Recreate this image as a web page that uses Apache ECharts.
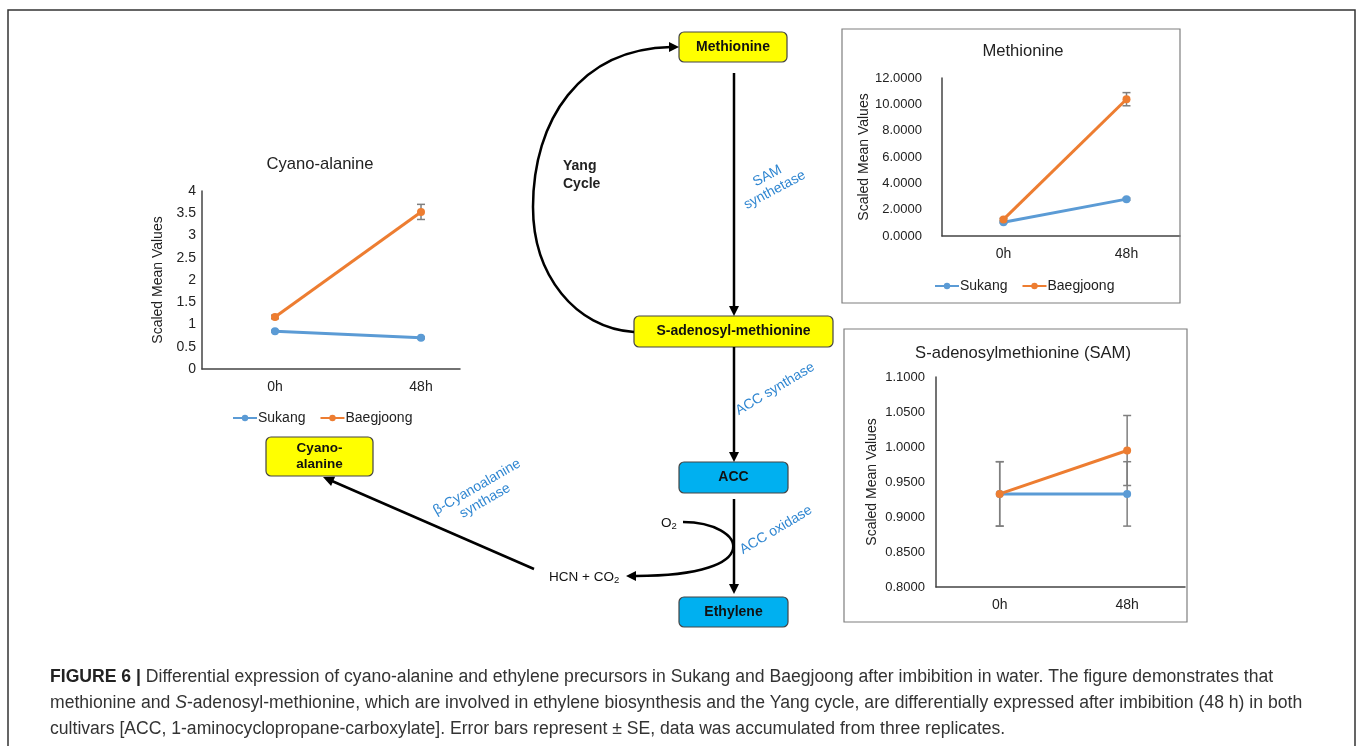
<!DOCTYPE html>
<html>
<head>
<meta charset="utf-8">
<script src="https://cdn.jsdelivr.net/npm/echarts@6/dist/echarts.min.js"></script>
<style>
html,body{margin:0;padding:0;background:#fff;}
#main{width:1360px;height:746px;}
</style>
</head>
<body>
<div id="main"></div>
<script>
// ---- data ----
const categories = ['0h', '48h'];
const seriesNames = ['Sukang', 'Baegjoong'];
const cyanoSukang = [0.85, 0.70];
const cyanoBaeg = [1.17, 3.53];
const cyanoSukangErr = [0.02, 0.02];
const cyanoBaegErr = [0.04, 0.17];
const metSukang = [1.04, 2.80];
const metBaeg = [1.26, 10.39];
const metSukangErr = [0.05, 0.08];
const metBaegErr = [0.08, 0.50];
const samSukang = [0.933, 0.933];
const samBaeg = [0.933, 0.995];
const samSukangErr = [0.046, 0.046];
const samBaegErr = [0.046, 0.050];

const C_SUK = '#5B9BD5', C_BAE = '#ED7D31', C_ERR = '#7F7F7F';
const FONT = '"Liberation Sans", Arial, sans-serif';
const BLUE = '#2F86D1';

const pts = arr => arr.map((v, i) => [i, v]);
const errPts = (vals, errs) => vals.map((v, i) => [i, v - errs[i], v + errs[i]]);

function errRender(params, api) {
  const x = api.value(0);
  const a = api.coord([x, api.value(2)]);
  const b = api.coord([x, api.value(1)]);
  const w = 4;
  const st = { stroke: C_ERR, lineWidth: 1.5 };
  return { type: 'group', children: [
    { type: 'line', shape: { x1: a[0], y1: a[1], x2: b[0], y2: b[1] }, style: st },
    { type: 'line', shape: { x1: a[0] - w, y1: a[1], x2: a[0] + w, y2: a[1] }, style: st },
    { type: 'line', shape: { x1: b[0] - w, y1: b[1], x2: b[0] + w, y2: b[1] }, style: st }
  ]};
}

function xAxisFor(idx, max) {
  return {
    type: 'value', gridIndex: idx, min: -0.5, max: max, interval: 0.5,
    axisLine: { show: true, onZero: false, lineStyle: { color: '#444', width: 1.5 } },
    axisTick: { show: false }, splitLine: { show: false },
    axisLabel: { color: '#222', fontFamily: FONT, fontSize: 14, margin: 11,
      showMinLabel: true, showMaxLabel: true,
      formatter: v => (Math.abs(v - Math.round(v)) < 1e-6 && v >= 0 && v < categories.length) ? categories[Math.round(v)] : '' }
  };
}
function yAxisFor(idx, min, max, interval, fmt, fs, margin, gap) {
  return {
    type: 'value', gridIndex: idx, min: min, max: max, interval: interval,
    name: 'Scaled Mean Values', nameLocation: 'middle', nameRotate: 90, nameGap: gap,
    nameTextStyle: { color: '#222', fontFamily: FONT, fontSize: 14 },
    axisLine: { show: true, onZero: false, lineStyle: { color: '#444', width: 1.5 } },
    axisTick: { show: false }, splitLine: { show: false },
    axisLabel: { color: '#222', fontFamily: FONT, fontSize: fs, margin: margin, formatter: fmt }
  };
}
function lineSeries(name, color, data, idx) {
  return { type: 'line', name: name, xAxisIndex: idx, yAxisIndex: idx, data: pts(data),
    symbol: 'circle', symbolSize: 8, lineStyle: { color: color, width: 3 },
    itemStyle: { color: color }, z: 3 };
}
function errSeries(vals, errs, idx) {
  return { type: 'custom', xAxisIndex: idx, yAxisIndex: idx, data: errPts(vals, errs),
    renderItem: errRender, z: 2, silent: true };
}

// diagram helpers
function arrowHead(x1, y1, x2, y2, len, half) {
  const dx = x2 - x1, dy = y2 - y1, L = Math.hypot(dx, dy);
  const ux = dx / L, uy = dy / L;
  const bx = x2 - ux * len, by = y2 - uy * len;
  return { type: 'polygon', shape: { points: [[x2, y2], [bx - uy * half, by + ux * half], [bx + uy * half, by - ux * half]] },
    style: { fill: '#000' }, z: 10 };
}
function seg(x1, y1, x2, y2) {
  return { type: 'line', shape: { x1, y1, x2, y2 }, style: { stroke: '#000', lineWidth: 2.5 }, z: 10 };
}
function box(x, y, w, h, fill, lines, fs) {
  const els = [{ type: 'rect', shape: { x, y, width: w, height: h, r: 5 },
    style: { fill: fill, stroke: '#444', lineWidth: 1.2 }, z: 10 }];
  els.push({ type: 'text', x: x + w / 2, y: y + h / 2, z: 11,
    style: { text: lines, fill: '#111', font: 'bold ' + fs + 'px ' + FONT, align: 'center', verticalAlign: 'middle', lineHeight: fs + 3 } });
  return els;
}
function rotText(x, y, text, deg, fs, color) {
  return { type: 'text', x, y, rotation: deg * Math.PI / 180, z: 11,
    style: { text, fill: color, font: fs + 'px ' + FONT, align: 'center', verticalAlign: 'middle', lineHeight: fs + 2 } };
}

const graphics = [];
// outer frame and chart frames
graphics.push({ type: 'rect', shape: { x: 8, y: 10, width: 1347, height: 780 }, style: { fill: 'none', stroke: '#333', lineWidth: 1.5 }, z: 1 });
graphics.push({ type: 'rect', shape: { x: 842, y: 29, width: 338, height: 274 }, style: { fill: 'none', stroke: '#7F7F7F', lineWidth: 1.2 }, z: 1 });
graphics.push({ type: 'rect', shape: { x: 844, y: 329, width: 343, height: 293 }, style: { fill: 'none', stroke: '#7F7F7F', lineWidth: 1.2 }, z: 1 });
// chart titles
graphics.push({ type: 'text', x: 320, y: 164, style: { text: 'Cyano-alanine', fill: '#222', font: '16.6px ' + FONT, align: 'center', verticalAlign: 'middle' } });
graphics.push({ type: 'text', x: 1023, y: 51, style: { text: 'Methionine', fill: '#222', font: '16.6px ' + FONT, align: 'center', verticalAlign: 'middle' } });
graphics.push({ type: 'text', x: 1023, y: 353, style: { text: 'S-adenosylmethionine (SAM)', fill: '#222', font: '16.6px ' + FONT, align: 'center', verticalAlign: 'middle' } });

// boxes
graphics.push(...box(679, 32, 108, 30, '#FFFF00', 'Methionine', 14));
graphics.push(...box(634, 316, 199, 31, '#FFFF00', 'S-adenosyl-methionine', 14));
graphics.push(...box(266, 437, 107, 39, '#FFFF00', 'Cyano-\nalanine', 13.5));
graphics.push(...box(679, 462, 109, 31, '#00B0F0', 'ACC', 14));
graphics.push(...box(679, 597, 109, 30, '#00B0F0', 'Ethylene', 14));

// vertical arrows
graphics.push(seg(734, 73, 734, 306), arrowHead(734, 73, 734, 316, 10, 5));
graphics.push(seg(734, 347, 734, 452), arrowHead(734, 347, 734, 462, 10, 5));
graphics.push(seg(734, 499, 734, 584), arrowHead(734, 499, 734, 594, 10, 5));
// Yang cycle curve
graphics.push({ type: 'bezierCurve', shape: { x1: 634, y1: 332, cpx1: 575, cpy1: 328, cpx2: 533, cpy2: 275, x2: 533, y2: 207 }, style: { stroke: '#000', lineWidth: 2.5, fill: 'none' }, z: 10 });
graphics.push({ type: 'bezierCurve', shape: { x1: 533, y1: 207, cpx1: 533, cpy1: 120, cpx2: 580, cpy2: 49, x2: 671, y2: 47 }, style: { stroke: '#000', lineWidth: 2.5, fill: 'none' }, z: 10 });
graphics.push(arrowHead(665, 47, 679, 47, 10, 5));
// O2 curve
graphics.push({ type: 'bezierCurve', shape: { x1: 683, y1: 522, cpx1: 745, cpy1: 522, cpx2: 770, cpy2: 576, x2: 636, y2: 576 }, style: { stroke: '#000', lineWidth: 2.5, fill: 'none' }, z: 10 });
graphics.push(arrowHead(646, 576, 626, 576, 10, 5));
// HCN -> cyano-alanine
graphics.push(seg(534, 569, 332, 481), arrowHead(534, 569, 323, 477, 11, 5));

// labels
graphics.push({ type: 'text', x: 563, y: 175, z: 11, style: { text: 'Yang\nCycle', fill: '#222', font: 'bold 14px ' + FONT, align: 'left', verticalAlign: 'middle', lineHeight: 18 } });
graphics.push(rotText(771, 183, 'SAM\nsynthetase', 28, 14, BLUE));
graphics.push(rotText(775, 389, 'ACC synthase', 31, 14, BLUE));
graphics.push(rotText(776, 530, 'ACC oxidase', 31, 14, BLUE));
graphics.push(rotText(481, 494, '\u03B2-Cyanoalanine\nsynthase', 30, 14, BLUE));
const subRich = { n: { font: '13.5px ' + FONT, fill: '#111' }, s: { font: '9.5px ' + FONT, fill: '#111', padding: [7, 0, 0, 0] } };
graphics.push({ type: 'text', x: 549, y: 577, z: 11, style: { text: '{n|HCN + CO}{s|2}', rich: subRich, align: 'left', verticalAlign: 'middle' } });
graphics.push({ type: 'text', x: 661, y: 523, z: 11, style: { text: '{n|O}{s|2}', rich: subRich, align: 'left', verticalAlign: 'middle' } });

// caption
const CF = 17.6;
const capRich = {
  b: { font: 'bold ' + CF + 'px ' + FONT, fill: '#222' },
  n: { font: CF + 'px ' + FONT, fill: '#333' },
  i: { font: 'italic ' + CF + 'px ' + FONT, fill: '#333' }
};
graphics.push({ type: 'text', x: 50, y: 677, style: { text: '{b|FIGURE 6 |}{n| Differential expression of cyano-alanine and ethylene precursors in Sukang and Baegjoong after imbibition in water. The figure demonstrates that}', rich: capRich, verticalAlign: 'middle' } });
graphics.push({ type: 'text', x: 50, y: 703, style: { text: '{n|methionine and }{i|S}{n|-adenosyl-methionine, which are involved in ethylene biosynthesis and the Yang cycle, are differentially expressed after imbibition (48 h) in both}', rich: capRich, verticalAlign: 'middle' } });
graphics.push({ type: 'text', x: 50, y: 729, style: { text: '{n|cultivars [ACC, 1-aminocyclopropane-carboxylate]. Error bars represent \u00B1 SE, data was accumulated from three replicates.}', rich: capRich, verticalAlign: 'middle' } });

const legendText = { fontFamily: FONT, fontSize: 14, color: '#222', padding: [0, 0, 0, -4] };
const chart = echarts.init(document.getElementById('main'), null, { renderer: 'canvas' });
chart.setOption({
  backgroundColor: '#fff',
  animation: false,
  textStyle: { fontFamily: FONT },
  grid: [
    { left: 202, top: 191, width: 258, height: 178, outerBoundsMode: 'none', containLabel: false },
    { left: 942, top: 78, width: 238, height: 158, outerBoundsMode: 'none', containLabel: false },
    { left: 936, top: 377, width: 249, height: 210, outerBoundsMode: 'none', containLabel: false }
  ],
  xAxis: [ xAxisFor(0, 1.267), xAxisFor(1, 1.435), xAxisFor(2, 1.454) ],
  yAxis: [
    yAxisFor(0, 0, 4, 0.5, v => String(v), 14, 6, 37),
    yAxisFor(1, 0, 12, 2, v => v.toFixed(4), 13, 20, 67),
    yAxisFor(2, 0.8, 1.1, 0.05, v => v.toFixed(4), 13, 11, 57)
  ],
  legend: [
    { data: seriesNames, left: 227, top: 406, itemWidth: 24, itemHeight: 8, itemGap: 14,
      textStyle: legendText, selectedMode: false },
    { data: seriesNames, left: 929, top: 274, itemWidth: 24, itemHeight: 8, itemGap: 14,
      textStyle: legendText, selectedMode: false }
  ],
  graphic: { elements: graphics },
  series: [
    lineSeries('Sukang', C_SUK, cyanoSukang, 0),
    lineSeries('Baegjoong', C_BAE, cyanoBaeg, 0),
    errSeries(cyanoSukang, cyanoSukangErr, 0),
    errSeries(cyanoBaeg, cyanoBaegErr, 0),
    lineSeries('Sukang', C_SUK, metSukang, 1),
    lineSeries('Baegjoong', C_BAE, metBaeg, 1),
    errSeries(metSukang, metSukangErr, 1),
    errSeries(metBaeg, metBaegErr, 1),
    lineSeries('Sukang', C_SUK, samSukang, 2),
    lineSeries('Baegjoong', C_BAE, samBaeg, 2),
    errSeries(samSukang, samSukangErr, 2),
    errSeries(samBaeg, samBaegErr, 2)
  ]
});
</script>
</body>
</html>
